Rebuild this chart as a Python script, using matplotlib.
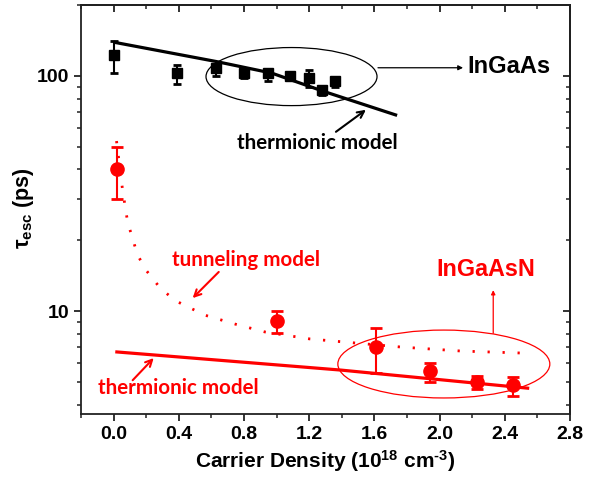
import matplotlib
matplotlib.use("Agg")
import matplotlib.pyplot as plt
from matplotlib.patches import Ellipse
from matplotlib.ticker import FixedLocator, NullFormatter, LogLocator

plt.rcParams['font.family'] = ['Liberation Sans', 'DejaVu Sans']
plt.rcParams['mathtext.fontset'] = 'custom'
plt.rcParams['mathtext.rm'] = 'Liberation Sans:bold'
plt.rcParams['mathtext.bf'] = 'Liberation Sans:bold'
plt.rcParams['mathtext.it'] = 'Liberation Sans:bold'
plt.rcParams['mathtext.default'] = 'bf'

# ---- data ----
ingaas_x = [0.0, 0.39, 0.63, 0.80, 0.95, 1.08, 1.20, 1.28, 1.36]
ingaas_y = [122, 103, 108, 103, 103, 100, 98, 87, 95]
ingaas_lo = [103, 92, 100, 98, 95, 96, 90, 83, 90]
ingaas_hi = [140, 111, 112, 107, 107, 104, 106, 90, 99]

ingaasn_x = [0.02, 1.0, 1.61, 1.94, 2.23, 2.45]
ingaasn_y = [40.2, 9.1, 7.05, 5.56, 5.0, 4.84]
ingaasn_lo = [30.0, 8.1, 5.46, 5.0, 4.64, 4.35]
ingaasn_hi = [50.0, 10.0, 8.5, 6.0, 5.28, 5.23]

therm_black_x = [0.01, 0.63, 0.97, 1.29, 1.73]
therm_black_y = [138.6, 115, 102.7, 85.8, 68.2]

therm_red_x = [0.02, 1.395, 2.54]
therm_red_y = [6.70, 5.61, 4.70]

tunnel_x = [0.018, 0.055, 0.086, 0.147, 0.203, 0.283, 0.375, 0.559, 0.743,
            0.928, 1.204, 1.487, 1.763, 2.132, 2.501]
tunnel_y = [52.8, 32.7, 23.9, 17.3, 14.8, 12.6, 11.1, 9.61, 8.81,
            8.15, 7.61, 7.31, 7.03, 6.76, 6.63]

xticks = [0.0, 0.4, 0.8, 1.2, 1.6, 2.0, 2.4, 2.8]
xtick_labels = ['0.0', '0.4', '0.8', '1.2', '1.6', '2.0', '2.4', '2.8']

RED = '#ff0000'

fig = plt.figure(figsize=(5.92, 4.78), dpi=100)
ax = fig.add_axes([81/592, 1-414/478, 489/592, 409/478])
ax.set_yscale('log')
ax.set_xlim(-0.2, 2.8)
ax.set_ylim(3.65, 200)

# models
ax.plot(therm_black_x, therm_black_y, color='black', lw=2.3, zorder=3)
ax.plot(therm_red_x, therm_red_y, color=RED, lw=2.3, zorder=3)
ax.plot(tunnel_x, tunnel_y, color=RED, lw=2, linestyle=(0, (0.8, 4.6)),
        dash_capstyle='butt', zorder=3)

# data
ax.errorbar(ingaas_x, ingaas_y,
            yerr=[[y - l for y, l in zip(ingaas_y, ingaas_lo)],
                  [h - y for y, h in zip(ingaas_y, ingaas_hi)]],
            fmt='s', color='black', ms=6.5, elinewidth=1.5, capsize=3,
            capthick=2, zorder=4)
ax.errorbar(ingaasn_x, ingaasn_y,
            yerr=[[y - l for y, l in zip(ingaasn_y, ingaasn_lo)],
                  [h - y for y, h in zip(ingaasn_y, ingaasn_hi)]],
            fmt='o', color=RED, ms=9.5, elinewidth=1.5, capsize=4.5,
            capthick=2, zorder=4)

# ellipses
ax.add_patch(Ellipse((0.4305, 0.825), 0.3497, 0.142, transform=ax.transAxes,
                     fill=False, edgecolor='black', lw=0.9, zorder=2))
ax.add_patch(Ellipse((0.742, 0.1222), 0.4335, 0.166, transform=ax.transAxes,
                     fill=False, edgecolor=RED, lw=0.9, zorder=2))

# texts
ann_font = dict(family=['Lato', 'DejaVu Sans'], fontweight='bold', fontsize=14.8)
ax.text(2.427, 109.2, 'InGaAs', ha='center', va='center', fontsize=17,
        fontweight='bold', color='black')
ax.text(2.286, 14.95, 'InGaAsN', ha='center', va='center', fontsize=16.8,
        fontweight='bold', color=RED)
ax.text(1.247, 51.9, 'thermionic model', ha='center', va='center',
        color='black', **ann_font)
ax.text(0.811, 16.5, 'tunneling model', ha='center', va='center',
        color=RED, **ann_font)
ax.text(0.399, 4.70, 'thermionic model', ha='center', va='center',
        color=RED, **ann_font)

# arrows
ax.annotate('', xy=(1.548, 71.7), xytext=(1.364, 57.8),
            arrowprops=dict(arrowstyle='->', color='black', lw=1.5,
                            shrinkA=0, shrinkB=0, mutation_scale=12))
ax.annotate('', xy=(2.144, 108.2), xytext=(1.622, 108.2),
            arrowprops=dict(arrowstyle='-|>', color='black', lw=0.9,
                            shrinkA=0, shrinkB=0, mutation_scale=7))
ax.annotate('', xy=(0.485, 11.35), xytext=(0.645, 14.66),
            arrowprops=dict(arrowstyle='->', color=RED, lw=1.5,
                            shrinkA=0, shrinkB=0, mutation_scale=12))
ax.annotate('', xy=(2.329, 12.27), xytext=(2.329, 8.05),
            arrowprops=dict(arrowstyle='-|>', color=RED, lw=0.9,
                            shrinkA=0, shrinkB=0, mutation_scale=6))
ax.annotate('', xy=(0.246, 6.31), xytext=(0.117, 5.08),
            arrowprops=dict(arrowstyle='->', color=RED, lw=1.5,
                            shrinkA=0, shrinkB=0, mutation_scale=12))

# axes styling
for s in ax.spines.values():
    s.set_linewidth(1.3)
    s.set_color('#222222')
ax.set_xticks(xticks)
ax.set_xticklabels(xtick_labels)
ax.xaxis.set_minor_locator(FixedLocator([-0.2, 0.2, 0.6, 1.0, 1.4, 1.8, 2.2, 2.6]))
ax.yaxis.set_minor_locator(LogLocator(base=10, subs=range(2, 10), numticks=10))
ax.yaxis.set_minor_formatter(NullFormatter())
ax.set_yticks([10, 100])
ax.set_yticklabels(['10', '100'])
ax.tick_params(which='major', direction='out', length=5, width=1.3,
               labelsize=14, color='#222222')
ax.tick_params(which='minor', direction='out', length=3, width=1.1,
               color='#222222')
for lab in ax.get_xticklabels() + ax.get_yticklabels():
    lab.set_fontweight('bold')

secx = ax.secondary_xaxis('top')
secx.set_xticks(xticks)
secx.xaxis.set_minor_locator(FixedLocator([-0.2, 0.2, 0.6, 1.0, 1.4, 1.8, 2.2, 2.6]))
secx.tick_params(which='major', direction='in', length=5, width=1.3,
                 labeltop=False, color='#222222')
secx.tick_params(which='minor', direction='in', length=3, width=1.1,
                 color='#222222')
secx.spines['top'].set_linewidth(1.3)

secy = ax.secondary_yaxis('right')
secy.set_yticks([10, 100])
secy.yaxis.set_minor_locator(LogLocator(base=10, subs=range(2, 10), numticks=10))
secy.yaxis.set_minor_formatter(NullFormatter())
secy.tick_params(which='major', direction='in', length=5, width=1.3,
                 labelright=False, color='#222222')
secy.tick_params(which='minor', direction='in', length=3, width=1.1,
                 color='#222222')
secy.spines['right'].set_linewidth(1.3)

ax.set_xlabel(r'Carrier Density (10$^{18}$ cm$^{\text{-}3}$)', fontsize=15,
              fontweight='bold', labelpad=4)
ax.set_ylabel(r'$\tau_{esc}$ (ps)', fontsize=15.5, fontweight='bold')
ax.yaxis.set_label_coords(-0.092, 0.504)

fig.savefig('out.png', dpi=100)
